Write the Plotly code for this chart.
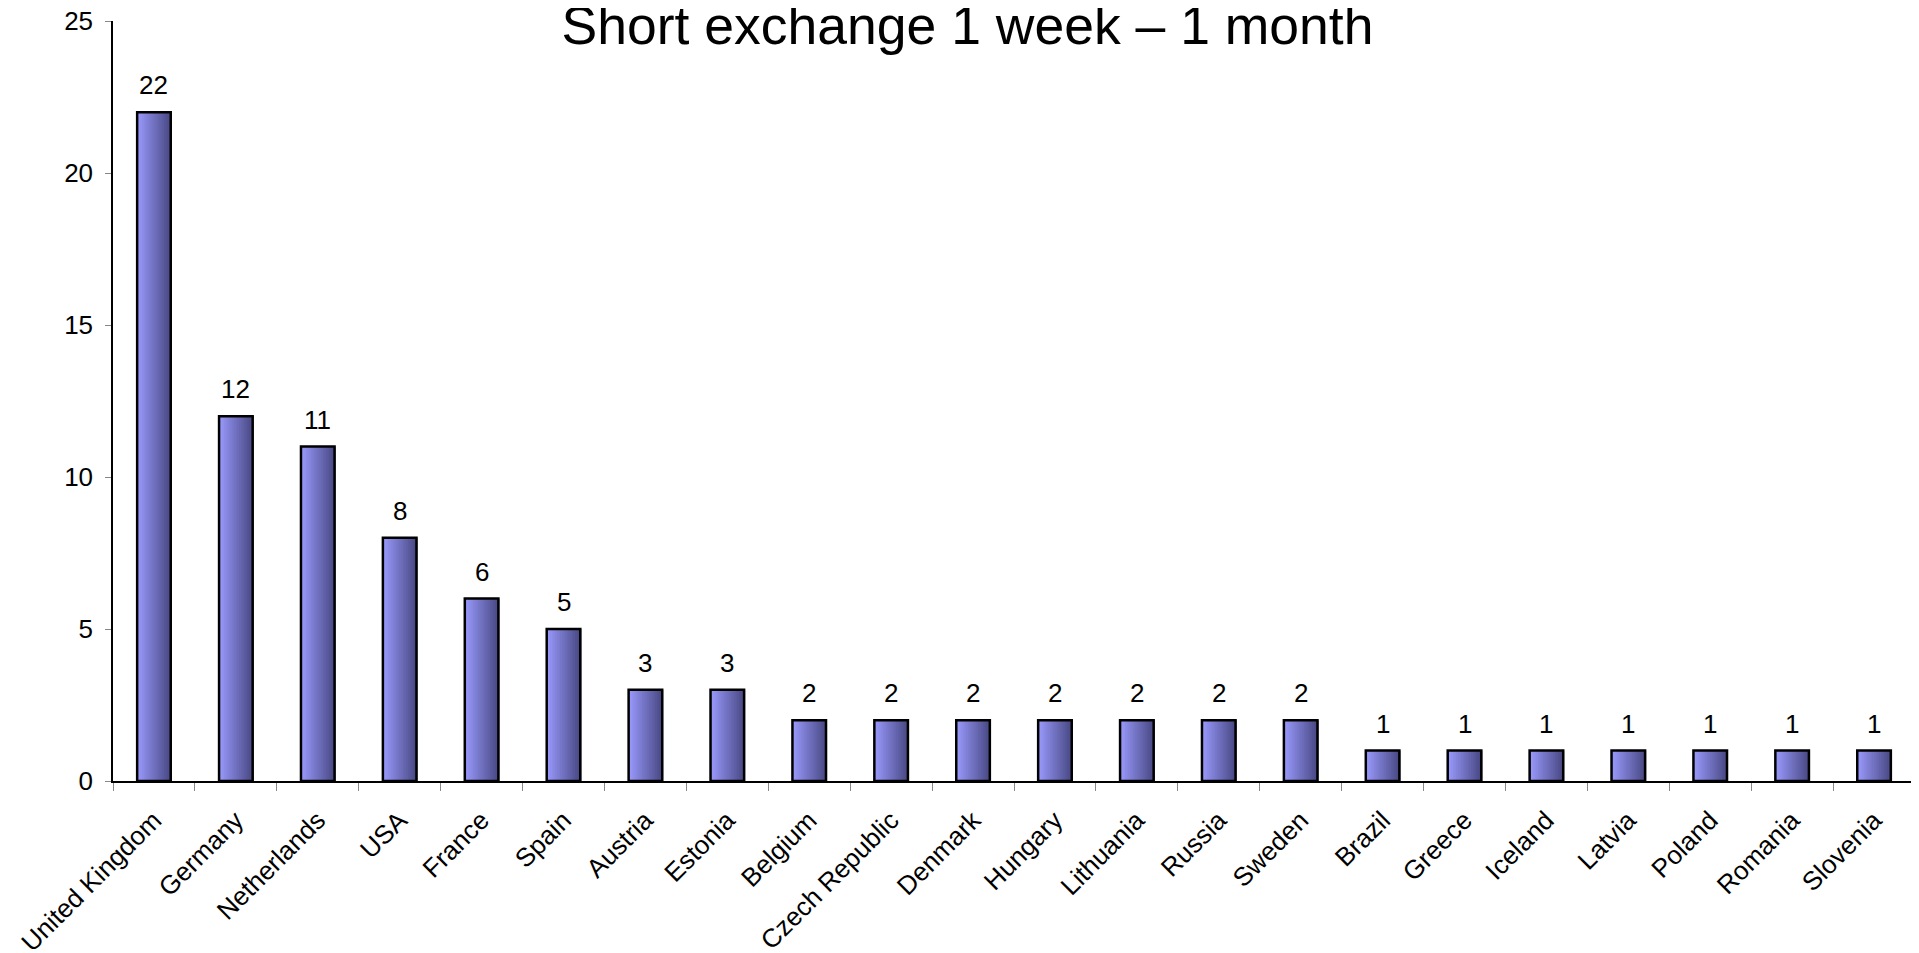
import plotly.graph_objects as go

# data
countries = [
    "United Kingdom", "Germany", "Netherlands", "USA", "France", "Spain",
    "Austria", "Estonia", "Belgium", "Czech Republic", "Denmark", "Hungary",
    "Lithuania", "Russia", "Sweden", "Brazil", "Greece", "Iceland", "Latvia",
    "Poland", "Romania", "Slovenia",
]
counts = [22, 12, 11, 8, 6, 5, 3, 3, 2, 2, 2, 2, 2, 2, 2, 1, 1, 1, 1, 1, 1, 1]

title_text = "Short exchange 1 week \u2013 1 month"
y_ticks = [0, 5, 10, 15, 20, 25]

FONT = "Arial, Liberation Sans, sans-serif"
BAR_W = 0.41
N_SLICES = 20


def blend(c1, c2, t):
    return "rgb({},{},{})".format(*[round(a + (b - a) * t) for a, b in zip(c1, c2)])


light = (152, 152, 250)
dark = (74, 74, 134)

fig = go.Figure()

# fake the left-to-right gradient with thin overlaid slices
for k in range(N_SLICES):
    w = BAR_W / N_SLICES
    fig.add_trace(
        go.Bar(
            x=countries,
            y=counts,
            width=w * 1.6,
            offset=-BAR_W / 2 + k * w,
            marker=dict(color=blend(light, dark, k / (N_SLICES - 1)), line=dict(width=0)),
            showlegend=False,
            hoverinfo="skip",
        )
    )

# outline
fig.add_trace(
    go.Bar(
        x=countries,
        y=counts,
        width=BAR_W,
        offset=-BAR_W / 2,
        marker=dict(color="rgba(0,0,0,0)", line=dict(color="black", width=2.5)),
        showlegend=False,
    )
)

for c, v in zip(countries, counts):
    fig.add_annotation(
        x=c, y=v, text=str(v), showarrow=False,
        yanchor="bottom", yshift=10,
        font=dict(family=FONT, size=26, color="black"),
    )

fig.update_xaxes(
    tickangle=-45,
    tickson="boundaries",
    ticks="outside",
    ticklen=8,
    tickcolor="#888888",
    ticklabelstandoff=12,
    showline=True,
    linecolor="black",
    linewidth=1.5,
    showgrid=False,
    automargin=False,
    tickfont=dict(family=FONT, size=26, color="black"),
    range=[-0.5, len(countries) - 0.5],
)

fig.update_yaxes(
    range=[0, 25],
    tickvals=y_ticks,
    ticks="outside",
    ticklen=6,
    tickcolor="#888888",
    ticklabelstandoff=7,
    ticklabeloverflow="allow",
    showline=True,
    linecolor="black",
    linewidth=1.5,
    showgrid=False,
    zeroline=False,
    automargin=False,
    tickfont=dict(family=FONT, size=26, color="black"),
)

# the page body adds an 8px offset, margins account for it
fig.update_layout(
    title=dict(
        text=title_text,
        x=0.5, xanchor="center",
        y=0.962, yanchor="bottom", yref="container",
        font=dict(family=FONT, size=53.5, color="black"),
    ),
    barmode="overlay",
    plot_bgcolor="white",
    paper_bgcolor="white",
    width=1919,
    height=953,
    margin=dict(l=105, r=12, t=13, b=180),
)

fig.write_html("out.html")
